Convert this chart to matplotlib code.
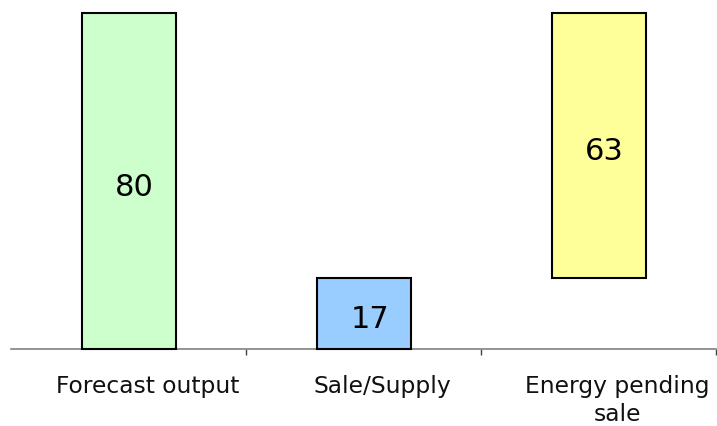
import matplotlib
matplotlib.use("Agg")
import matplotlib.pyplot as plt
import matplotlib.transforms as mtransforms

categories = ["Forecast output", "Sale/Supply", "Energy pending\nsale"]
bottoms = [0, 0, 17]
values = [80, 17, 63]
colors = ["#CCFFCC", "#99CCFF", "#FFFF99"]

W, H = 717, 427
fig = plt.figure(figsize=(W / 100, H / 100), dpi=100)
ax = fig.add_axes([11 / W, 77 / H, 705 / W, 336 / H])

x = list(range(len(categories)))
bars = ax.bar(x, values, bottom=bottoms, width=0.4, color=colors,
              edgecolor="black", linewidth=1.5, clip_on=False, zorder=3)

for xi, b, v in zip(x, bottoms, values):
    ax.annotate(str(v), (xi, b + v / 2), xytext=(4.5, -4), textcoords="offset points",
                ha="center", va="center", fontsize=22, color="black", zorder=4)

ax.set_xlim(-0.5, 2.5)
ax.set_ylim(0, 80)
ax.set_yticks([])
for s in ["top", "right", "left"]:
    ax.spines[s].set_visible(False)
ax.spines["bottom"].set_color("#808080")
ax.spines["bottom"].set_linewidth(1.2)

ax.set_xticks(x)
ax.set_xticklabels(categories, fontsize=16.8, color="#111111", linespacing=1.3)
ax.tick_params(axis="x", which="major", length=0, pad=18)
ax.set_xticks([0.5, 1.5, 2.5], minor=True)
ax.tick_params(axis="x", which="minor", length=4, width=1, color="#404040", direction="out")

offset = mtransforms.ScaledTranslation(19 / 100, 0, fig.dpi_scale_trans)
for lab in ax.get_xticklabels():
    lab.set_transform(lab.get_transform() + offset)

fig.savefig("out.png", dpi=100)
